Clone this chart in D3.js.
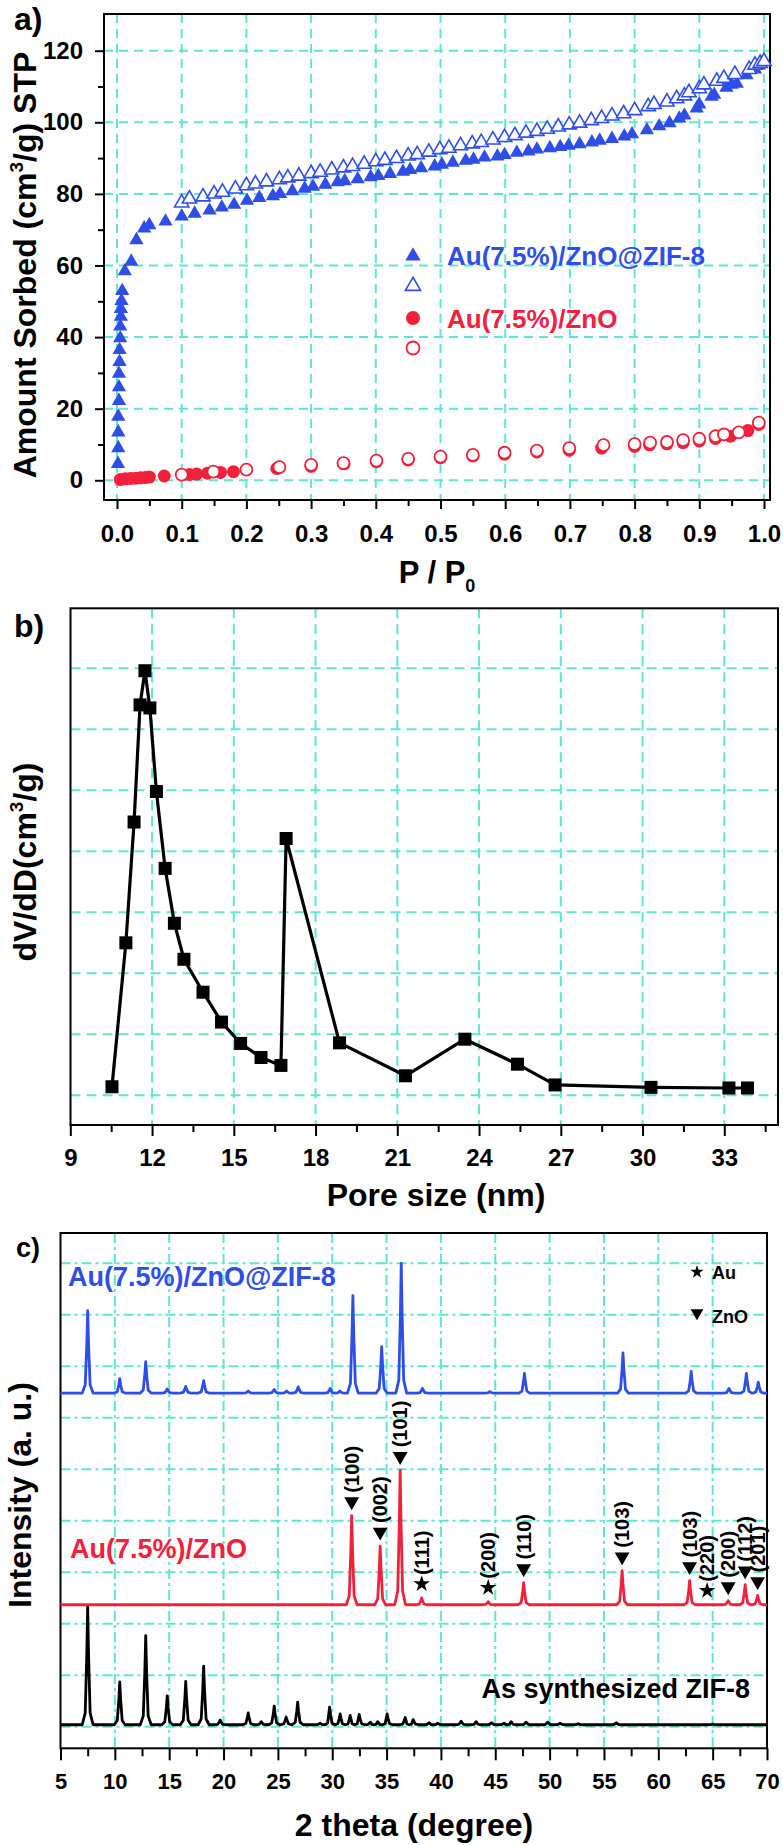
<!DOCTYPE html>
<html>
<head>
<meta charset="utf-8">
<script src="https://cdn.jsdelivr.net/npm/d3@7"></script>
<style>
  body { margin: 0; background: #fff; }
  svg { display: block; font-family: "Liberation Sans", Arial, sans-serif; font-weight: bold; }
</style>
</head>
<body>
<svg id="chart" width="783" height="1845"></svg>
<script>
// ---------- data: a) isotherms ----------
var zifAds = [[0.0015,4.6],[0.002,9.0],[0.002,13.4],[0.002,17.8],[0.003,22.2],[0.003,26.0],[0.003,29.8],
  [0.004,33.1],[0.004,36.4],[0.005,39.7],[0.005,43.0],[0.006,45.7],[0.006,47.9],[0.007,50.1],[0.008,52.9],
  [0.012,58.4],[0.022,61.1],[0.030,67.1],[0.042,70.4],[0.050,71.3],[0.075,72.3],[0.100,73.7],[0.120,74.5],
  [0.143,75.4],[0.162,76.2],[0.181,77.0],[0.201,78.1],[0.220,78.9],[0.241,79.4],[0.252,80.0],[0.271,80.8],
  [0.290,81.5],[0.303,82.0],[0.322,82.6],[0.341,83.3],[0.352,83.6],[0.372,84.1],[0.392,84.7],[0.404,85.0],
  [0.422,85.6],[0.442,86.2],[0.453,86.7],[0.470,87.2],[0.491,87.7],[0.502,88.2],[0.519,88.7],[0.539,89.3],
  [0.551,89.6],[0.568,90.2],[0.588,90.5],[0.599,90.9],[0.618,91.5],[0.636,91.9],[0.649,92.4],[0.669,92.8],
  [0.685,93.1],[0.698,93.5],[0.715,93.9],[0.734,94.4],[0.746,94.9],[0.765,95.4],[0.784,96.1],[0.796,96.7],
  [0.819,97.8],[0.838,98.9],[0.854,99.8],[0.869,101.1],[0.877,101.9],[0.896,103.9],[0.900,105.0],
  [0.919,107.2],[0.923,107.7],[0.942,109.7],[0.950,110.5],[0.958,110.8],[0.973,113.2],[0.986,114.8],[0.992,115.9]];

var zifDes = [[0.100,77.5],[0.112,78.6],[0.133,79.2],[0.150,80.0],[0.163,80.5],[0.183,81.4],[0.200,82.3],
  [0.214,82.8],[0.231,83.4],[0.251,84.0],[0.264,84.5],[0.281,85.0],[0.300,85.7],[0.314,86.1],[0.332,86.7],
  [0.350,87.3],[0.364,87.7],[0.382,88.3],[0.400,89.0],[0.414,89.4],[0.432,89.9],[0.450,90.6],[0.464,91.0],
  [0.482,91.7],[0.499,92.4],[0.513,92.8],[0.531,93.5],[0.549,94.0],[0.563,94.4],[0.581,95.1],[0.599,95.8],
  [0.615,96.3],[0.632,97.0],[0.649,97.5],[0.665,98.1],[0.682,98.7],[0.699,99.3],[0.715,99.8],[0.733,100.5],
  [0.749,101.1],[0.765,101.8],[0.783,102.4],[0.800,103.3],[0.821,104.4],[0.830,105.0],[0.850,105.7],
  [0.865,106.6],[0.877,107.4],[0.884,108.3],[0.900,109.4],[0.907,110.5],[0.927,111.5],[0.938,112.3],
  [0.955,113.4],[0.977,114.8],[0.986,116.0],[0.994,116.5],[1.000,117.0]];

var znoAds = [[0.005,0.2],[0.013,0.4],[0.021,0.5],[0.029,0.6],[0.036,0.7],[0.044,0.8],[0.050,0.9],
  [0.073,1.2],[0.112,1.6],[0.123,1.75],[0.140,2.0],[0.160,2.2],[0.180,2.4],[0.247,3.3],[0.300,3.9],
  [0.351,4.6],[0.401,5.2],[0.450,5.7],[0.500,6.3],[0.550,6.8],[0.599,7.3],[0.649,7.9],[0.699,8.4],
  [0.749,9.0],[0.800,9.5],[0.823,9.9],[0.850,10.2],[0.875,10.5],[0.900,11.0],[0.925,11.7],[0.948,12.3],
  [0.975,13.9],[0.992,15.6]];

var znoDes = [[0.100,1.6],[0.149,2.4],[0.200,3.0],[0.251,3.7],[0.300,4.3],[0.350,4.8],[0.401,5.5],
  [0.450,6.0],[0.500,6.6],[0.550,7.1],[0.599,7.7],[0.649,8.3],[0.699,9.0],[0.752,9.8],[0.800,10.1],
  [0.824,10.5],[0.850,10.7],[0.875,11.2],[0.900,11.6],[0.925,12.3],[0.938,12.8],[0.961,13.4],[0.992,16.1]];

var aXTicks = [0,0.1,0.2,0.3,0.4,0.5,0.6,0.7,0.8,0.9,1.0];
var aXMinor = [0.05,0.15,0.25,0.35,0.45,0.55,0.65,0.75,0.85,0.95];
var aYTicks = [0,20,40,60,80,100,120];
var aYMinor = [10,30,50,70,90,110];

// ---------- data: b) pore size distribution (arbitrary units) ----------
var poreSize = [10.53,11.04,11.34,11.56,11.74,11.92,12.16,12.48,12.82,13.17,13.87,14.55,15.25,16.0,
  16.73,16.92,18.88,21.30,23.48,25.41,26.79,30.31,33.17,33.85];
var poreDv = [0.14,2.50,4.48,6.40,6.96,6.35,4.98,3.72,2.82,2.23,1.69,1.20,0.85,0.62,
  0.49,4.21,0.86,0.32,0.92,0.51,0.17,0.13,0.12,0.12];
var bXTicks = [9,12,15,18,21,24,27,30,33];
var bXMinor = [10.5,13.5,16.5,19.5,22.5,25.5,28.5,31.5,34.5];
var bYGrid = [0,1,2,3,4,5,6,7];

// ---------- data: c) XRD, peaks as [2theta, intensity] with trace baselines ----------
var zifBase = 0.04;
var zifPeaks = [[7.5,2.34],[10.45,0.87],[12.84,1.77],[14.82,0.60],[16.52,0.88],[18.17,1.18],[19.69,0.13],
  [22.27,0.27],[23.47,0.10],[24.66,0.40],[25.76,0.19],[26.82,0.48],[28.89,0.07],[29.76,0.38],[30.73,0.25],
  [31.65,0.22],[32.48,0.24],[33.5,0.09],[34.18,0.10],[35.05,0.25],[36.71,0.18],[37.45,0.14],[38.92,0.08],
  [39.7,0.07],[41.86,0.11],[43.24,0.10],[44.66,0.08],[45.81,0.07],[46.46,0.10],[47.84,0.09],[49.82,0.09],
  [50.97,0.07],[52.63,0.06],[56.13,0.08],[65.0,0.05]];
var znoBase = 2.37;
var znoPeaks = [[31.79,4.10],[34.41,3.51],[36.25,4.98],[38.23,2.50],[44.35,2.43],[47.61,2.80],
  [56.67,3.03],[62.88,2.84],[66.43,2.45],[67.99,2.76],[69.14,2.55]];
var compBase = 6.48;
var compPeaks = [[7.5,8.08],[10.45,6.76],[12.84,7.09],[14.82,6.56],[16.52,6.61],[18.17,6.72],[22.27,6.52],
  [24.66,6.55],[25.8,6.52],[26.87,6.60],[29.81,6.57],[30.7,6.52],[31.9,8.37],[34.55,7.38],[36.35,9.00],
  [38.3,6.57],[44.5,6.51],[47.68,6.86],[56.75,7.26],[63.02,6.90],[66.5,6.57],[68.1,6.86],[69.2,6.69]];
var hkl = [[31.79,"(100)","zno"],[34.41,"(002)","zno"],[36.25,"(101)","zno"],[38.23,"(111)","au"],
  [44.35,"(200)","au"],[47.61,"(110)","zno"],[56.67,"(103)","zno"],[62.88,"(103)","zno"],
  [64.49,"(220)","au"],[66.43,"(200)","zno"],[67.99,"(112)","zno"],[69.14,"(201)","zno"]];
var cXTicks = [5,10,15,20,25,30,35,40,45,50,55,60,65,70];
var cXMinor = [7.5,12.5,17.5,22.5,27.5,32.5,37.5,42.5,47.5,52.5,57.5,62.5,67.5];
var cYGrid = [0,1,2,3,4,5,6,7,8,9];

// ---------- helpers ----------
var GRID = '#5fe6d3';
var BLUE = '#2f4ee8';
var RED = '#f2203b';
var svg = d3.select('#chart');

function drawGrid(g, xs, ys, x, y, box, dash) {
  g.selectAll(null).data(xs).join('line')
      .attr('x1', function(d) { return x(d); }).attr('x2', function(d) { return x(d); })
      .attr('y1', box.t).attr('y2', box.b);
  g.selectAll(null).data(ys).join('line')
      .attr('y1', function(d) { return y(d); }).attr('y2', function(d) { return y(d); })
      .attr('x1', box.l).attr('x2', box.r);
  g.selectAll('line').attr('stroke', GRID).attr('stroke-width', 2)
      .attr('stroke-dasharray', dash);
}

function drawFrame(box) {
  svg.append('rect').attr('x', box.l).attr('y', box.t)
      .attr('width', box.r - box.l).attr('height', box.b - box.t)
      .attr('fill', 'none').attr('stroke', '#000').attr('stroke-width', 2);
}

function styleAxis(sel, fontSize) {
  sel.attr('font-family', null).attr('font-size', null);
  sel.select('.domain').remove();
  sel.selectAll('line').attr('stroke', '#000').attr('stroke-width', 2);
  sel.selectAll('text').attr('fill', '#000').style('font-size', fontSize + 'px');
}

function addText(x, y, str, size, opts) {
  var t = svg.append('text').attr('x', x).attr('y', y).style('font-size', size + 'px').text(str);
  if (opts && opts.anchor) t.attr('text-anchor', opts.anchor);
  if (opts && opts.fill) t.attr('fill', opts.fill);
  return t;
}

// rotated axis title with a superscript 3 in "cm3"
function unitTitle(x, y, before, after) {
  var t = svg.append('text').attr('transform', 'translate(' + x + ',' + y + ') rotate(-90)')
      .attr('text-anchor', 'middle').style('font-size', '32px');
  t.append('tspan').text(before);
  t.append('tspan').attr('dy', -13).style('font-size', '19px').text('3');
  t.append('tspan').attr('dy', 13).text(after);
}

// ================= panel a =================
var aBox = {l: 104, r: 770, t: 14, b: 500};
var xA = d3.scaleLinear().domain([0, 1]).range([117, 764]);
var yA = d3.scaleLinear().domain([0, 120]).range([480.3, 50.7]);

drawGrid(svg.append('g'), aXTicks, aYTicks, xA, yA, aBox, '9,6');
drawFrame(aBox);

var triSmall = d3.symbol().type(d3.symbolTriangle).size(88);
var triBig = d3.symbol().type(d3.symbolTriangle).size(100);

svg.append('g').selectAll('path').data(zifAds).join('path')
    .attr('d', triSmall)
    .attr('transform', function(d) { return 'translate(' + xA(d[0]) + ',' + yA(d[1]) + ')'; })
    .attr('fill', BLUE);
svg.append('g').selectAll('path').data(zifDes).join('path')
    .attr('d', triSmall)
    .attr('transform', function(d) { return 'translate(' + xA(d[0]) + ',' + yA(d[1]) + ')'; })
    .attr('fill', '#fff').attr('stroke', BLUE).attr('stroke-width', 1.6);
svg.append('g').selectAll('circle').data(znoAds).join('circle')
    .attr('cx', function(d) { return xA(d[0]); }).attr('cy', function(d) { return yA(d[1]); })
    .attr('r', 6.5).attr('fill', RED);
svg.append('g').selectAll('circle').data(znoDes).join('circle')
    .attr('cx', function(d) { return xA(d[0]); }).attr('cy', function(d) { return yA(d[1]); })
    .attr('r', 6).attr('fill', '#fff').attr('stroke', RED).attr('stroke-width', 1.8);

var axA = svg.append('g').attr('transform', 'translate(0,' + aBox.b + ')')
    .call(d3.axisBottom(xA).tickValues(aXTicks).tickSize(9).tickPadding(16).tickFormat(d3.format('.1f')));
styleAxis(axA, 24);
styleAxis(svg.append('g').attr('transform', 'translate(0,' + aBox.b + ')')
    .call(d3.axisBottom(xA).tickValues(aXMinor).tickSize(6).tickFormat('')), 24);
var ayA = svg.append('g').attr('transform', 'translate(' + aBox.l + ',0)')
    .call(d3.axisLeft(yA).tickValues(aYTicks).tickSize(9).tickPadding(12));
styleAxis(ayA, 24);
styleAxis(svg.append('g').attr('transform', 'translate(' + aBox.l + ',0)')
    .call(d3.axisLeft(yA).tickValues(aYMinor).tickSize(6).tickFormat('')), 24);

// legend
var legA = svg.append('g');
legA.append('path').attr('d', triBig).attr('transform', 'translate(413,256)').attr('fill', BLUE);
legA.append('path').attr('d', triBig).attr('transform', 'translate(413,286)')
    .attr('fill', '#fff').attr('stroke', BLUE).attr('stroke-width', 1.6);
legA.append('circle').attr('cx', 413).attr('cy', 318).attr('r', 7).attr('fill', RED);
legA.append('circle').attr('cx', 413).attr('cy', 348).attr('r', 6.5).attr('fill', '#fff')
    .attr('stroke', RED).attr('stroke-width', 1.8);
addText(447, 265, 'Au(7.5%)/ZnO@ZIF-8', 26, {fill: BLUE});
addText(447, 328, 'Au(7.5%)/ZnO', 26, {fill: RED});

addText(14, 30, 'a)', 32);
unitTitle(36, 265, 'Amount Sorbed (cm', '/g) STP');
var pTitle = svg.append('text').attr('x', 437).attr('y', 583).attr('text-anchor', 'middle')
    .style('font-size', '31px');
pTitle.append('tspan').text('P / P');
pTitle.append('tspan').attr('dy', 9).style('font-size', '18px').text('0');

// ================= panel b =================
var bBox = {l: 70.5, r: 778, t: 608.3, b: 1125};
var xB = d3.scaleLinear().domain([9, 35]).range([70.3, 778.8]);
var yB = d3.scaleLinear().domain([0, 7]).range([1095.3, 668.3]);

drawGrid(svg.append('g'), bXTicks.slice(1), bYGrid, xB, yB, bBox, '10,6');
drawFrame(bBox);

var pore = poreSize.map(function(s, i) { return [s, poreDv[i]]; });
svg.append('path').datum(pore)
    .attr('d', d3.line().x(function(d) { return xB(d[0]); }).y(function(d) { return yB(d[1]); }))
    .attr('fill', 'none').attr('stroke', '#000').attr('stroke-width', 3.2).attr('stroke-linejoin', 'round');
svg.append('g').selectAll('rect').data(pore).join('rect')
    .attr('x', function(d) { return xB(d[0]) - 6.5; }).attr('y', function(d) { return yB(d[1]) - 6.5; })
    .attr('width', 13).attr('height', 13).attr('fill', '#000');

styleAxis(svg.append('g').attr('transform', 'translate(0,' + bBox.b + ')')
    .call(d3.axisBottom(xB).tickValues(bXTicks).tickSize(11).tickPadding(13)), 24);
styleAxis(svg.append('g').attr('transform', 'translate(0,' + bBox.b + ')')
    .call(d3.axisBottom(xB).tickValues(bXMinor).tickSize(7).tickFormat('')), 24);

addText(14, 637, 'b)', 32);
unitTitle(36, 862, 'dV/dD(cm', '/g)');
addText(436, 1206, 'Pore size (nm)', 32, {anchor: 'middle'});

// ================= panel c =================
var cBox = {l: 60.5, r: 767, t: 1233, b: 1748.3};
var xC = d3.scaleLinear().domain([5, 70]).range([60.5, 767]);
var yC = d3.scaleLinear().domain([0, 9]).range([1726.8, 1263.3]);

drawGrid(svg.append('g'), cXTicks.slice(1, -1), cYGrid, xC, yC, cBox, '10,4,3,4');
drawFrame(cBox);

// each read peak is drawn as a sharp profile standing on its trace baseline;
// the foot is narrowed where two read peaks sit close together
function peakTrace(peaks, base) {
  var pts = [[5, base]];
  peaks.forEach(function(p, i) {
    var h = p[1] - base;
    var gapL = i > 0 ? (p[0] - peaks[i - 1][0]) / 2 : 1;
    var gapR = i < peaks.length - 1 ? (peaks[i + 1][0] - p[0]) / 2 : 1;
    var fl = Math.min(0.5, gapL - 0.02), fr = Math.min(0.5, gapR - 0.02);
    pts.push([p[0] - fl, base], [p[0] - fl * 0.45, base + 0.1 * h], [p[0] - 0.08, base + 0.6 * h],
        [p[0], p[1]], [p[0] + 0.08, base + 0.6 * h], [p[0] + fr * 0.45, base + 0.1 * h], [p[0] + fr, base]);
  });
  pts.push([70, base]);
  return pts;
}
var lineC = d3.line().x(function(d) { return xC(d[0]); }).y(function(d) { return yC(d[1]); });
[[zifPeaks, zifBase, '#000'], [znoPeaks, znoBase, RED], [compPeaks, compBase, BLUE]].forEach(function(s) {
  svg.append('path').datum(peakTrace(s[0], s[1])).attr('d', lineC)
      .attr('fill', 'none').attr('stroke', s[2]).attr('stroke-width', 2.8).attr('stroke-linejoin', 'round');
});

styleAxis(svg.append('g').attr('transform', 'translate(0,' + cBox.b + ')')
    .call(d3.axisBottom(xC).tickValues(cXTicks).tickSize(12).tickPadding(13)), 22);
styleAxis(svg.append('g').attr('transform', 'translate(0,' + cBox.b + ')')
    .call(d3.axisBottom(xC).tickValues(cXMinor).tickSize(8).tickFormat('')), 22);

// hkl markers above the Au/ZnO peaks
var starBig = d3.symbol().type(d3.symbolStar).size(85);
var downBig = d3.symbol().type(d3.symbolTriangle).size(95);
function znoTopAt(t) {
  var top = znoBase;
  znoPeaks.forEach(function(p) { if (Math.abs(p[0] - t) < 0.3) top = p[1]; });
  return top;
}
var hklG = svg.append('g');
hkl.forEach(function(h) {
  var px = xC(h[0]);
  var py = yC(znoTopAt(h[0])) - 14;
  hklG.append('path')
      .attr('d', h[2] === 'au' ? starBig : downBig)
      .attr('transform', 'translate(' + px + ',' + py + ')' + (h[2] === 'au' ? '' : ' rotate(180)'))
      .attr('fill', '#000');
  hklG.append('text').attr('transform', 'translate(' + px + ',' + (py - 9) + ') rotate(-90)')
      .attr('dy', '0.35em').style('font-size', '20px').text(h[1]);
});

svg.append('path').attr('d', d3.symbol().type(d3.symbolStar).size(55))
    .attr('transform', 'translate(697,1272)').attr('fill', '#000');
svg.append('path').attr('d', d3.symbol().type(d3.symbolTriangle).size(70))
    .attr('transform', 'translate(697,1313) rotate(180)').attr('fill', '#000');
addText(712, 1279, 'Au', 18);
addText(712, 1323, 'ZnO', 18);

addText(68, 1286, 'Au(7.5%)/ZnO@ZIF-8', 27, {fill: BLUE});
addText(70, 1558, 'Au(7.5%)/ZnO', 27, {fill: RED});
addText(750, 1698, 'As synthesized ZIF-8', 27, {anchor: 'end'});

addText(16, 1257, 'c)', 27);
svg.append('text').attr('transform', 'translate(31,1495) rotate(-90)').attr('text-anchor', 'middle')
    .style('font-size', '32px').text('Intensity (a. u.)');
addText(414, 1836, '2 theta (degree)', 32, {anchor: 'middle'});
</script>
</body>
</html>
